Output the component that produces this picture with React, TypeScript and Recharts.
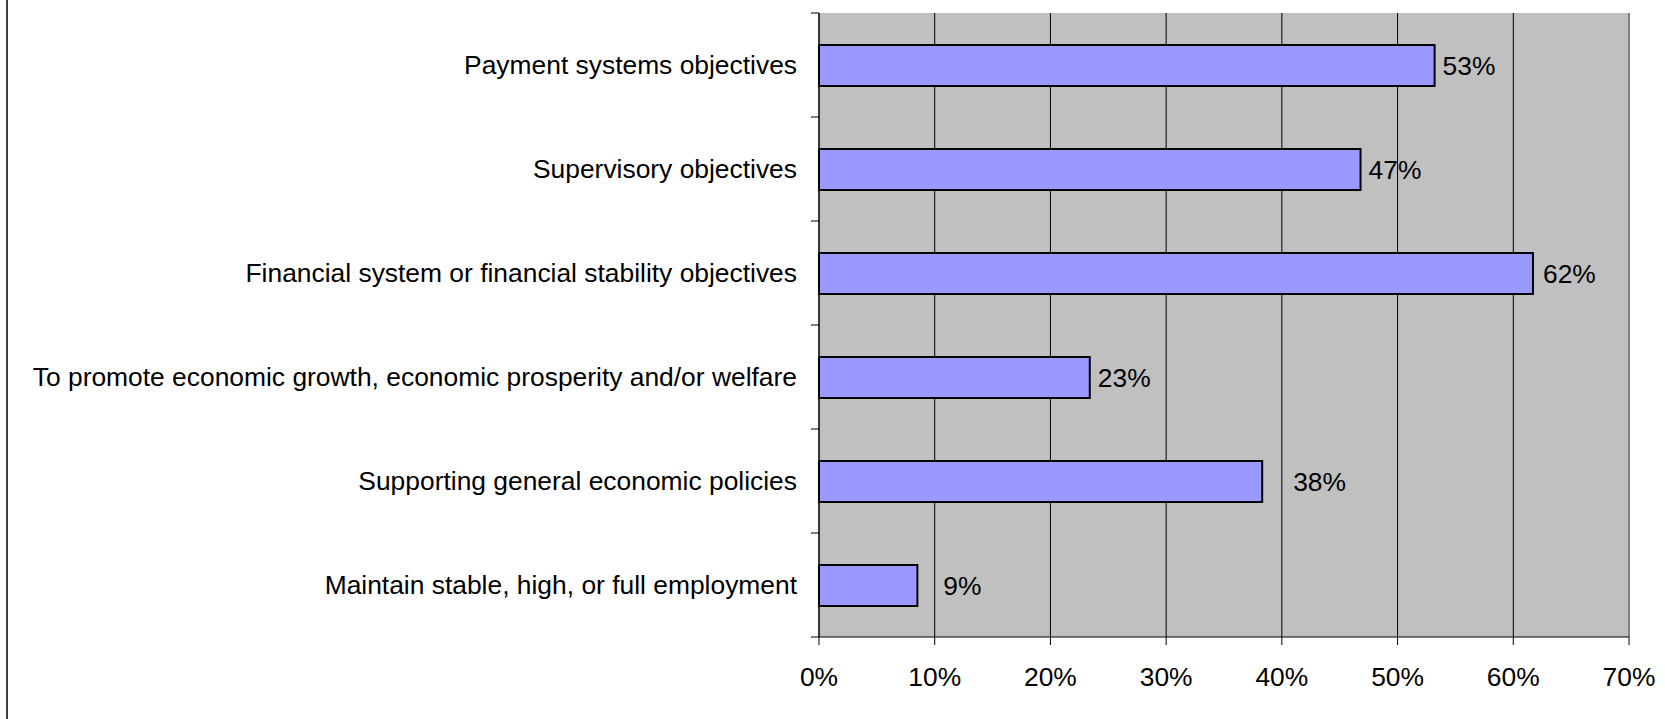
import React from 'react';
import { BarChart, Bar, XAxis, YAxis, CartesianGrid, ReferenceLine, LabelList } from 'recharts';

const categories = [
  'Payment systems objectives',
  'Supervisory objectives',
  'Financial system or financial stability objectives',
  'To promote economic growth, economic prosperity and/or welfare',
  'Supporting general economic policies',
  'Maintain stable, high, or full employment',
];

const shares = [53.2, 46.8, 61.7, 23.4, 38.3, 8.5];

const xTicks = [0, 10, 20, 30, 40, 50, 60, 70];

const data = categories.map((name, i) => ({ name, value: shares[i] }));

// extra spacing Excel gave some labels
const labelNudge = [0, 0, 2, 0, 23, 18];

const FONT = '"Liberation Sans", Arial, sans-serif';
const FONT_SIZE = 26.4;
const TICK_SIZE = 8;
const TICK_MARGIN = 14;
const HALF_BAND = (637 - 13) / categories.length / 2;

function CategoryTick(props: any) {
  const { x, y, payload, index } = props;
  const lx1 = x + TICK_MARGIN;
  const lx2 = lx1 + TICK_SIZE;
  return (
    <g>
      <line x1={lx1} x2={lx2} y1={y - HALF_BAND} y2={y - HALF_BAND} stroke="#000" />
      {index === categories.length - 1 && (
        <line x1={lx1} x2={lx2} y1={y + HALF_BAND} y2={y + HALF_BAND} stroke="#000" />
      )}
      <text x={x} y={y} dy="0.355em" textAnchor="end" fill="#000" fontSize={FONT_SIZE} fontFamily={FONT}>
        {payload.value}
      </text>
    </g>
  );
}

function ValueLabel(props: any) {
  const { x, y, width, height, value, index } = props;
  return (
    <text
      x={x + width + 8 + (labelNudge[index] || 0)}
      y={y + height / 2}
      dy="0.355em"
      fill="#000"
      fontSize={FONT_SIZE}
      fontFamily={FONT}
    >
      {Math.round(value)}%
    </text>
  );
}

export default function App() {
  return (
    <div style={{ position: 'fixed', left: 0, top: 0, width: 1665, height: 719, background: '#fff' }}>
      <div style={{ position: 'absolute', left: 6, top: 0, width: 2, height: 719, background: '#404040' }} />
      <BarChart
        width={1665}
        height={719}
        data={data}
        layout="vertical"
        margin={{ top: 13, right: 36, bottom: 42, left: 0 }}
        barCategoryGap={31}
      >
        <CartesianGrid horizontal={false} stroke="#000" fill="#C0C0C0" fillOpacity={1} />
        <XAxis
          type="number"
          domain={[0, 70]}
          ticks={xTicks}
          tickFormatter={(v: number) => `${v}%`}
          axisLine={{ stroke: '#000' }}
          tickLine={{ stroke: '#000' }}
          tickSize={TICK_SIZE}
          tickMargin={22}
          height={40}
          interval={0}
          tick={{ fill: '#000', fontSize: FONT_SIZE, fontFamily: FONT }}
        />
        <YAxis
          type="category"
          dataKey="name"
          width={819}
          axisLine={{ stroke: '#000' }}
          tickLine={false}
          tickSize={TICK_SIZE}
          tickMargin={TICK_MARGIN}
          interval={0}
          tick={<CategoryTick />}
        />
        <ReferenceLine x={70} stroke="#808080" strokeWidth={2} />
        <Bar dataKey="value" fill="#9999FF" stroke="#000" strokeWidth={2} barSize={41} isAnimationActive={false}>
          <LabelList dataKey="value" content={<ValueLabel />} />
        </Bar>
      </BarChart>
    </div>
  );
}
